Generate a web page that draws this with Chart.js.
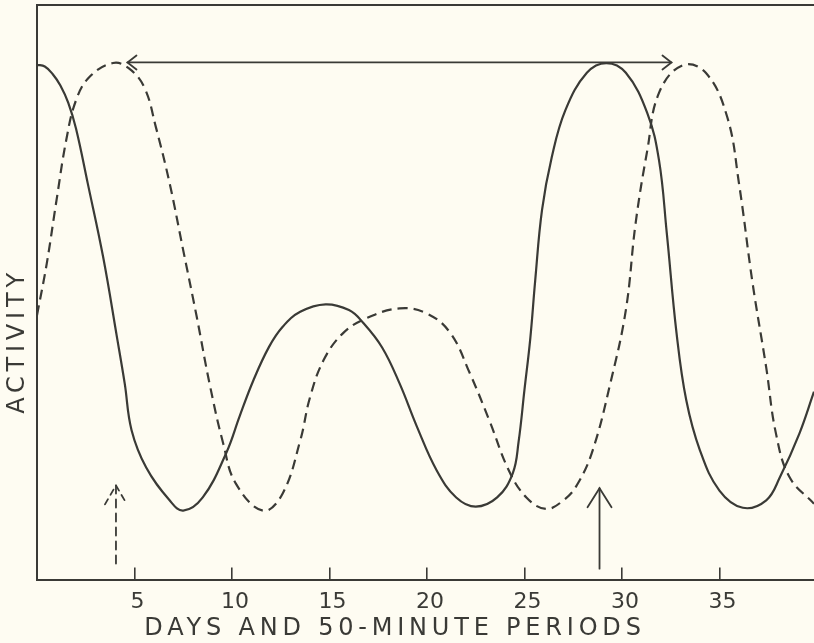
<!DOCTYPE html>
<html>
<head>
<meta charset="utf-8">
<script src="https://cdn.jsdelivr.net/npm/chart.js@4.4.0/dist/chart.umd.min.js"></script>
<style>
  html, body { margin: 0; padding: 0; background: #fefcf2; }
  #wrap { width: 814px; height: 643px; }
</style>
</head>
<body>
<div id="wrap"><canvas id="myChart"></canvas></div>
<script>
// values (x = days, y = relative activity, 0-100)
const solidX = [0, 0.4, 0.8, 1.2, 1.6, 2.0, 2.6, 3.4, 4.1, 4.5, 4.85, 5.6, 6.8, 7.5, 8.5, 9.7, 10.4, 11.1, 11.9, 12.6, 13.5, 14.8, 16.0, 16.7, 17.7, 18.6, 19.5, 20.5, 21.5, 22.5, 23.6, 24.4, 24.7, 25.0, 25.3, 25.55, 25.9, 26.4, 27.1, 28.2, 29.2, 30.2, 31.3, 31.9, 32.3, 32.8, 33.3, 34.0, 35.0, 36.2, 37.4, 38.1, 39.1, 39.85];
const solidY = [89.6, 89.3, 88, 86, 83, 78.5, 69, 56, 42.2, 34.1, 26, 19.5, 13.8, 12.0, 14.3, 22, 28.5, 34.7, 40.5, 44, 46.6, 47.9, 46.9, 44.8, 40.4, 34.1, 26.5, 19, 14.3, 12.7, 14.3, 18.5, 24, 33, 42, 52, 64.3, 73.5, 81.7, 88.2, 89.9, 88.2, 81.2, 73, 60.3, 42.9, 31.2, 22.5, 15.5, 12.5, 13.8, 17.8, 25.4, 32.7];

const dashedX = [0, 0.5, 1.0, 1.5, 2.0, 2.7, 3.9, 4.7, 5.5, 6.1, 6.8, 7.5, 8.2, 8.85, 9.55, 10.2, 11.6, 12.6, 13.5, 14.0, 14.7, 15.7, 16.9, 18.6, 20.0, 21.2, 22.2, 23.2, 24.2, 25.1, 26.1, 27.0, 27.7, 28.5, 29.4, 30.2, 30.7, 31.3, 31.9, 33.1, 34.3, 35.4, 36.0, 36.7, 37.4, 37.9, 38.6, 39.85];
const dashedY = [46, 55, 66, 76.5, 83.4, 87.5, 89.9, 89, 85.7, 78.7, 69, 57.3, 45.6, 34.1, 23.7, 16.7, 12, 15, 24.2, 31.7, 38.2, 42.9, 45.5, 47.2, 46.3, 42.9, 35.9, 27.7, 19, 14.3, 12.3, 13.8, 16.5, 22.5, 34.1, 46.9, 62, 74.7, 84.7, 89.5, 88.2, 80.5, 69, 51.6, 36.9, 25.4, 17.8, 13.2];

const tickValues = [5, 10, 15, 20, 25, 30, 35];
const xTitle = 'DAYS AND 50-MINUTE PERIODS';
const yTitle = 'ACTIVITY';

// arrows, in data units
const spanArrowX = [4.64, 32.54];
const spanArrowY = 90;
const dashedMarkX = 4.05;
const dashedMarkY = [2.8, 16.4];
const solidMarkX = 28.85;
const solidMarkY = [1.9, 15.9];

const ink = '#3a3a36';
const font = '"DejaVu Sans", sans-serif';

const toPoints = (xs, ys) => xs.map((x, i) => ({ x, y: ys[i] }));

// arrows + axis titles
const extras = {
  id: 'extras',
  afterDraw(chart) {
    const { ctx, scales: { x, y } } = chart;
    const line = (x1, y1, x2, y2) => {
      ctx.beginPath(); ctx.moveTo(x1, y1); ctx.lineTo(x2, y2); ctx.stroke();
    };
    // open arrow head: tip, direction of the shaft (unit), length, half width
    const head = (tx, ty, dx, dy, len, half) => {
      ctx.setLineDash([]);
      ctx.beginPath();
      ctx.moveTo(tx + dx * len - dy * half, ty + dy * len + dx * half);
      ctx.lineTo(tx, ty);
      ctx.lineTo(tx + dx * len + dy * half, ty + dy * len - dx * half);
      ctx.stroke();
    };
    ctx.save();
    ctx.strokeStyle = ink;
    ctx.lineWidth = 1.8;
    ctx.lineCap = 'round';

    const hy = y.getPixelForValue(spanArrowY);
    const ha = x.getPixelForValue(spanArrowX[0]);
    const hb = x.getPixelForValue(spanArrowX[1]);
    line(ha, hy, hb, hy);
    head(ha, hy, 1, 0, 9, 7);
    head(hb, hy, -1, 0, 9, 7);

    const sx = x.getPixelForValue(solidMarkX);
    const s0 = y.getPixelForValue(solidMarkY[0]);
    const s1 = y.getPixelForValue(solidMarkY[1]);
    line(sx, s0, sx, s1);
    head(sx, s1, 0, 1, 19, 12);

    const dx = x.getPixelForValue(dashedMarkX);
    const d0 = y.getPixelForValue(dashedMarkY[0]);
    const d1 = y.getPixelForValue(dashedMarkY[1]);
    ctx.setLineDash([8, 6]);
    line(dx, d0, dx, d1);
    ctx.setLineDash([6, 5]);
    ctx.beginPath();
    ctx.moveTo(dx - 11, d1 + 19); ctx.lineTo(dx, d1); ctx.lineTo(dx + 11, d1 + 19);
    ctx.stroke();

    ctx.setLineDash([]);
    ctx.fillStyle = ink;
    ctx.font = '24px ' + font;
    ctx.letterSpacing = '4.8px';
    ctx.textAlign = 'center';
    ctx.textBaseline = 'middle';
    ctx.fillText(xTitle, 395, 629);
    ctx.translate(18, 343);
    ctx.rotate(-Math.PI / 2);
    ctx.fillText(yTitle, 2, 0);
    ctx.restore();
  }
};

const config = {
  type: 'line',
  data: {
    datasets: [
      {
        label: 'solid',
        data: toPoints(solidX, solidY),
        borderColor: ink,
        borderWidth: 2.2,
        pointRadius: 0,
        tension: 0.4,
        fill: false,
      },
      {
        label: 'dashed',
        data: toPoints(dashedX, dashedY),
        borderColor: ink,
        borderWidth: 2.2,
        borderDash: [10, 6],
        pointRadius: 0,
        tension: 0.4,
        fill: false,
      },
    ],
  },
  options: {
    responsive: true,
    maintainAspectRatio: false,
    animation: false,
    layout: { padding: { left: 37, top: 5, right: 0, bottom: 7 } },
    plugins: { legend: { display: false }, tooltip: { enabled: false } },
    scales: {
      x: {
        type: 'linear',
        position: 'bottom',
        min: 0,
        max: 39.85,
        border: { display: true, color: ink, width: 2 },
        grid: { display: true, drawOnChartArea: false, drawTicks: true, tickLength: -12, color: ink, lineWidth: 1.6 },
        ticks: {
          stepSize: 5,
          includeBounds: false,
          autoSkip: false,
          maxRotation: 0,
          padding: 21,
          labelOffset: 3,
          color: ink,
          font: { family: font, size: 22 },
          callback: (v) => (tickValues.includes(v) ? String(v) : ''),
        },
      },
      x2: {
        type: 'linear',
        position: 'top',
        min: 0,
        max: 39.85,
        border: { display: true, color: ink, width: 2 },
        grid: { display: false, drawTicks: false },
        ticks: { display: false },
      },
      y: {
        type: 'linear',
        min: 0,
        max: 100,
        border: { display: true, color: ink, width: 2 },
        grid: { display: false, drawTicks: false },
        ticks: { display: false },
      },
    },
  },
  plugins: [extras],
};

const myChart = new Chart(document.getElementById('myChart'), config);
</script>
</body>
</html>
